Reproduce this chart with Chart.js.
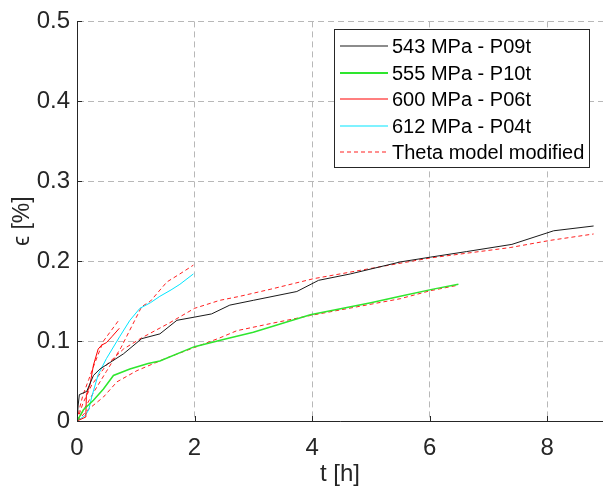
<!DOCTYPE html>
<html>
<head>
<meta charset="utf-8">
<script src="https://cdn.jsdelivr.net/npm/chart.js@4.4.1/dist/chart.umd.min.js"></script>
<style>
    html, body { margin: 0; padding: 0; background: #fff; }
    #wrap { width: 603px; height: 495px; }
</style>
</head>
<body>
<div id="wrap"><canvas id="creepChart" width="603" height="495"></canvas></div>
<script>
// measured creep curves, t [h] vs strain [%]
const t543 = [0, 0.02, 0.04, 0.165, 0.28, 0.39, 0.79, 1.1, 1.41, 1.7, 2.0, 2.29, 2.6, 3.0, 3.74, 4.11, 4.65, 5.5, 6.01, 6.63, 7.4, 8.11, 8.79];
const e543 = [0, 0.02, 0.033, 0.037, 0.057, 0.065, 0.084, 0.103, 0.109, 0.126, 0.130, 0.134, 0.145, 0.151, 0.162, 0.176, 0.184, 0.199, 0.205, 0.212, 0.221, 0.238, 0.244];

const t555 = [0, 0.11, 0.28, 0.45, 0.62, 0.9, 1.21, 1.41, 2.0, 2.49, 3.0, 3.97, 5.0, 5.5, 6.06, 6.49];
const e555 = [0, 0.014, 0.026, 0.04, 0.057, 0.065, 0.072, 0.075, 0.093, 0.102, 0.111, 0.133, 0.148, 0.156, 0.165, 0.171];

const t600 = [0, 0.15, 0.16, 0.22, 0.28, 0.36, 0.42, 0.5, 0.6, 0.72];
const e600 = [0, 0.005, 0.033, 0.045, 0.07, 0.09, 0.095, 0.098, 0.106, 0.116];

const t612 = [0, 0.14, 0.2, 0.25, 0.36, 0.5, 0.73, 0.9, 1.07, 1.25, 1.41, 1.6, 1.75, 1.98];
const e612 = [0, 0.007, 0.014, 0.03, 0.058, 0.078, 0.106, 0.126, 0.141, 0.148, 0.156, 0.164, 0.171, 0.184];

// theta model (modified) fits
const tFit543 = [0, 0.1, 0.25, 0.5, 0.79, 1.1, 1.58, 2.0, 2.43, 2.77, 3.3, 4.02, 4.93, 6.01, 7.37, 8.05, 8.79];
const eFit543 = [0, 0.022, 0.045, 0.07, 0.09, 0.104, 0.123, 0.141, 0.151, 0.156, 0.165, 0.178, 0.190, 0.204, 0.217, 0.226, 0.234];

const tFit555 = [0, 0.2, 0.45, 0.68, 1.02, 1.53, 2.0, 2.43, 2.72, 3.3, 3.97, 4.7, 5.5, 6.01, 6.49];
const eFit555 = [0, 0.015, 0.030, 0.049, 0.063, 0.079, 0.092, 0.104, 0.113, 0.122, 0.132, 0.142, 0.153, 0.163, 0.170];

const tFit600 = [0, 0.05, 0.1, 0.2, 0.3, 0.45, 0.59, 0.7];
const eFit600 = [0, 0.018, 0.032, 0.052, 0.072, 0.1, 0.114, 0.125];

const tFit612 = [0, 0.1, 0.2, 0.3, 0.5, 0.75, 1.1, 1.25, 1.53, 1.75, 1.98];
const eFit612 = [0, 0.012, 0.025, 0.038, 0.062, 0.092, 0.143, 0.150, 0.174, 0.184, 0.195];

const xTicks = [0, 2, 4, 6, 8];
const yTicks = [0, 0.1, 0.2, 0.3, 0.4, 0.5];

const toPoints = (xs, ys) => xs.map((x, i) => ({ x: x, y: ys[i] }));

const axisColor = '#262626';
const gridColor = '#b8b8b8';
const fitDash = [4, 3];
const fontFamily = '"Liberation Sans", Arial, sans-serif';

const legendEntries = [
    { text: '543 MPa - P09t', color: '#1a1a1a', width: 1.2, dash: [] },
    { text: '555 MPa - P10t', color: '#2ee62e', width: 2, dash: [] },
    { text: '600 MPa - P06t', color: '#ff0000', width: 1.2, dash: [] },
    { text: '612 MPa - P04t', color: '#00e5ff', width: 1.2, dash: [] },
    { text: 'Theta model modified', color: '#ff2020', width: 1.2, dash: fitDash }
];

// boxed legend inside the plot, like the MATLAB one
const boxLegend = {
    id: 'boxLegend',
    afterDraw(chart) {
        const c = chart.ctx;
        const left = 334, top = 29, right = 589, bottom = 167;
        const rowH = 26.6;
        c.save();
        c.setLineDash([]);
        c.fillStyle = '#ffffff';
        c.fillRect(left, top, right - left, bottom - top);
        c.strokeStyle = axisColor;
        c.lineWidth = 1;
        c.strokeRect(left + 0.5, top + 0.5, right - left, bottom - top);
        c.restore();
        legendEntries.forEach((e, i) => {
            const y = Math.round(top + 17 + i * rowH);
            c.save();
            c.beginPath();
            c.strokeStyle = e.color;
            c.lineWidth = e.width;
            c.setLineDash(e.dash);
            c.moveTo(340, y);
            c.lineTo(388, y);
            c.stroke();
            c.restore();
            c.save();
            c.font = '20px ' + fontFamily;
            c.textBaseline = 'middle';
            c.fillStyle = '#000000';
            c.fillText(e.text, 392, y + 1);
            c.restore();
        });
    }
};

// small inward tick marks on the left and bottom axes
const innerTicks = {
    id: 'innerTicks',
    afterDatasetsDraw(chart) {
        const c = chart.ctx;
        const xs = chart.scales.x, ys = chart.scales.y;
        const area = chart.chartArea;
        c.save();
        c.strokeStyle = axisColor;
        c.lineWidth = 1;
        c.beginPath();
        xTicks.forEach(v => {
            const px = Math.round(xs.getPixelForValue(v)) + 0.5;
            c.moveTo(px, area.bottom);
            c.lineTo(px, area.bottom - 5);
        });
        yTicks.forEach(v => {
            const py = Math.round(ys.getPixelForValue(v)) + 0.5;
            c.moveTo(area.left, py);
            c.lineTo(area.left + 5, py);
        });
        c.stroke();
        c.restore();
    }
};

const whiteBg = {
    id: 'whiteBg',
    beforeDraw(chart) {
        const c = chart.ctx;
        c.save();
        c.fillStyle = '#fff';
        c.fillRect(0, 0, chart.width, chart.height);
        c.restore();
    }
};

function series(label, xs, ys, color, width, dash) {
    return {
        label: label,
        data: toPoints(xs, ys),
        borderColor: color,
        backgroundColor: color,
        borderWidth: width,
        borderDash: dash || [],
        pointRadius: 0,
        tension: 0,
        fill: false
    };
}

const ctx = document.getElementById('creepChart').getContext('2d');
new Chart(ctx, {
    type: 'line',
    data: {
        datasets: [
            series('543 MPa - P09t', t543, e543, '#1a1a1a', 1),
            series('555 MPa - P10t', t555, e555, '#2ee62e', 1.5),
            series('600 MPa - P06t', t600, e600, '#ff0000', 1),
            series('612 MPa - P04t', t612, e612, '#00e5ff', 1),
            series('Theta model modified', tFit543, eFit543, '#ff2020', 1, fitDash),
            series('Theta model modified', tFit555, eFit555, '#ff2020', 1, fitDash),
            series('Theta model modified', tFit600, eFit600, '#ff2020', 1, fitDash),
            series('Theta model modified', tFit612, eFit612, '#ff2020', 1, fitDash)
        ]
    },
    options: {
        responsive: false,
        animation: false,
        layout: {
            padding: { top: 16, right: 0, bottom: 0, left: 0 }
        },
        plugins: {
            legend: { display: false },
            tooltip: { enabled: false }
        },
        scales: {
            x: {
                type: 'linear',
                min: 0,
                max: 8.95,
                afterBuildTicks: function(scale) {
                    scale.ticks = xTicks.map(v => ({ value: v }));
                },
                afterFit: function(scale) {
                    scale.height = 74;
                },
                grid: {
                    color: gridColor,
                    drawTicks: false
                },
                border: { display: true, color: axisColor, width: 1, dash: [6, 4] },
                ticks: {
                    padding: 13,
                    color: axisColor,
                    font: { family: fontFamily, size: 24 },
                    callback: function(value) { return String(value); }
                },
                title: {
                    display: true,
                    text: 't [h]',
                    color: axisColor,
                    padding: { top: 0, bottom: 6 },
                    font: { family: fontFamily, size: 24 }
                }
            },
            y: {
                type: 'linear',
                min: 0,
                max: 0.5,
                afterBuildTicks: function(scale) {
                    scale.ticks = yTicks.map(v => ({ value: v }));
                },
                afterFit: function(scale) {
                    scale.width = 77;
                },
                grid: {
                    color: gridColor,
                    drawTicks: false
                },
                border: { display: true, color: axisColor, width: 1, dash: [6, 4] },
                ticks: {
                    padding: 7,
                    color: axisColor,
                    font: { family: fontFamily, size: 24 },
                    callback: function(value) { return value === 0 ? '0' : value.toFixed(1); }
                },
                title: {
                    display: true,
                    text: 'ϵ [%]',
                    color: axisColor,
                    padding: { top: 9, bottom: 0 },
                    font: { family: fontFamily, size: 23 }
                }
            }
        }
    },
    plugins: [whiteBg, innerTicks, boxLegend]
});
</script>
</body>
</html>
